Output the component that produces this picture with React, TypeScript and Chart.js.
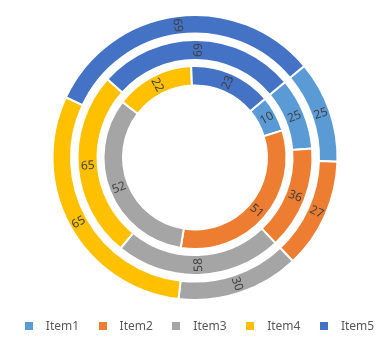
import React, { useEffect, useRef } from 'react';
import { Chart, registerables } from 'chart.js';

Chart.register(...registerables);

const categories = ['Item1', 'Item2', 'Item3', 'Item4', 'Item5'];
const outerValues = [25, 27, 30, 65, 69];
const middleValues = [25, 36, 58, 65, 69];
const innerValues = [10, 51, 52, 22, 23];
const colors = ['#5B9BD5', '#ED7D31', '#A5A5A5', '#FFC000', '#4472C4'];

const FONT = '12px "Noto Sans", "DejaVu Sans", sans-serif';

const ringLabels = {
  id: 'ringLabels',
  afterDatasetsDraw(chart: any) {
    const ctx = chart.ctx;
    ctx.save();
    ctx.font = FONT;
    ctx.fillStyle = '#404040';
    ctx.textAlign = 'center';
    ctx.textBaseline = 'middle';
    chart.data.datasets.forEach((ds: any, di: number) => {
      if (ds.spacer) return;
      const meta = chart.getDatasetMeta(di);
      meta.data.forEach((arc: any, i: number) => {
        const p = arc.getProps(['x', 'y', 'startAngle', 'endAngle', 'innerRadius', 'outerRadius'], true);
        const a = (p.startAngle + p.endAngle) / 2;
        const r = (p.innerRadius + p.outerRadius) / 2;
        const px = p.x + Math.cos(a) * r;
        const py = p.y + Math.sin(a) * r;
        const rot = Math.cos(a) > 0.05 ? a : a + Math.PI;
        ctx.save();
        ctx.translate(px, py);
        ctx.rotate(rot);
        ctx.fillText(String(ds.data[i]), 0, 0);
        ctx.restore();
      });
    });
    ctx.restore();
  },
};

const bottomLegend = {
  id: 'bottomLegend',
  afterDraw(chart: any) {
    const ctx = chart.ctx;
    ctx.save();
    ctx.font = FONT;
    const box = 8;
    const gap = 13;
    const itemGap = 19.5;
    const widths = categories.map((c) => ctx.measureText(c).width);
    const total = widths.reduce((s, w) => s + box + gap + w, 0) + itemGap * (categories.length - 1);
    let x = 199.5 - total / 2;
    const y = 326;
    ctx.textAlign = 'left';
    ctx.textBaseline = 'middle';
    categories.forEach((c, i) => {
      ctx.fillStyle = colors[i];
      ctx.fillRect(Math.round(x), y - 4, box, box);
      ctx.fillStyle = '#595959';
      ctx.fillText(c, x + box + gap, y + 0.5);
      x += box + gap + widths[i] + itemGap;
    });
    ctx.restore();
  },
};

export default function App() {
  const ref = useRef<HTMLCanvasElement | null>(null);

  useEffect(() => {
    document.body.style.margin = '0';
    const canvas = ref.current;
    if (!canvas) return;
    const ring = (values: number[], weight: number) => ({
      data: values,
      backgroundColor: colors,
      borderColor: '#ffffff',
      borderWidth: 2,
      weight,
    });
    const spacer = (weight: number) => ({
      data: [1],
      backgroundColor: 'rgba(0,0,0,0)',
      borderColor: 'rgba(0,0,0,0)',
      borderWidth: 0,
      weight,
      spacer: true,
    });
    const chart = new Chart(canvas, {
      type: 'doughnut',
      data: {
        labels: categories,
        datasets: [
          ring(outerValues, 18.5),
          spacer(6.5),
          ring(middleValues, 20),
          spacer(6),
          ring(innerValues, 19.5),
        ] as any,
      },
      options: {
        responsive: false,
        animation: false,
        devicePixelRatio: 1,
        events: [],
        rotation: 50,
        cutout: 72,
        layout: { padding: { top: 14, bottom: 57, left: 4, right: 0 } },
        plugins: {
          legend: { display: false },
          tooltip: { enabled: false },
        },
      } as any,
      plugins: [ringLabels, bottomLegend],
    });
    return () => chart.destroy();
  }, []);

  return (
    <div style={{ position: 'fixed', left: 0, top: 0, width: 386, height: 358, background: '#fff' }}>
      <canvas ref={ref} width={386} height={358} style={{ display: 'block', width: 386, height: 358 }} />
    </div>
  );
}
